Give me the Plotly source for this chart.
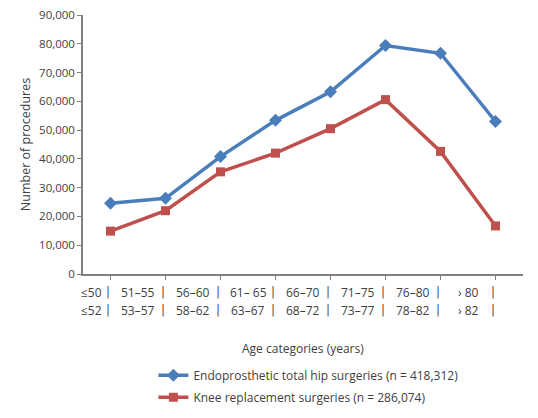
import plotly.graph_objects as go

categories = ["≤50 / ≤52", "51–55 / 53–57", "56–60 / 58–62", "61–65 / 63–67",
              "66–70 / 68–72", "71–75 / 73–77", "76–80 / 78–82", "›80 / ›82"]
labels_hip = ["≤50", "51–55", "56–60", "61– 65", "66–70", "71–75", "76–80", "› 80"]
labels_knee = ["≤52", "53–57", "58–62", "63–67", "68–72", "73–77", "78–82", "› 82"]
hip = [24600, 26300, 40800, 53400, 63300, 79400, 76700, 53000]
knee = [14900, 22000, 35500, 42000, 50500, 60600, 42600, 16700]
y_ticks = [0, 10000, 20000, 30000, 40000, 50000, 60000, 70000, 80000, 90000]

FONT = "Open Sans"
TXT = "#404040"
AX = "#808080"

fig = go.Figure()
fig.add_trace(go.Scatter(
    x=categories, y=hip, mode="lines+markers", legendgroup="hip",
    name="Endoprosthetic total hip surgeries (n = 418,312)",
    line=dict(color="#4A7EBB", width=3.5),
    marker=dict(symbol="diamond", size=10, color="#4A7EBB"),
))
fig.add_trace(go.Scatter(
    x=categories, y=knee, mode="lines+markers", legendgroup="knee",
    name="Knee replacement surgeries (n = 286,074)",
    line=dict(color="#C0504D", width=3.5),
    marker=dict(symbol="square", size=9, color="#C0504D"),
))

annotations = []
n = len(categories)
for i in range(n):
    pos = i - 0.5 if i > 0 else -0.35
    for txt, shift in ((labels_hip[i], -18), (labels_knee[i], -36)):
        annotations.append(dict(x=pos, y=0, xref="x", yref="paper", text=txt,
                                showarrow=False, yshift=shift, yanchor="middle",
                                font=dict(family=FONT, size=12, color=TXT)))
    for shift in (-18, -36):
        annotations.append(dict(x=i - 0.05, y=0, xref="x", yref="paper", text="|",
                                showarrow=False, yshift=shift, yanchor="middle",
                                font=dict(family="DejaVu Sans", size=12, color="#555555")))
annotations.append(dict(x=0.5, y=0, xref="paper", yref="paper",
                        text="Age categories (years)", showarrow=False, yshift=-74,
                        yanchor="middle",
                        font=dict(family=FONT, size=12, color=TXT)))

fig.update_layout(
    width=530, height=410,
    margin=dict(l=75, r=15, t=7, b=143),
    plot_bgcolor="white", paper_bgcolor="white",
    font=dict(family=FONT, size=11, color=TXT),
    showlegend=True,
    legend=dict(x=0.16, y=-0.33, xanchor="left", yanchor="top",
                font=dict(family=FONT, size=12, color=TXT),
                itemwidth=30, tracegroupgap=3, bgcolor="rgba(0,0,0,0)"),
    annotations=annotations,
)
fig.update_xaxes(
    type="category", range=[-0.5, n - 0.5], automargin=False,
    showticklabels=False, ticks="outside", ticklen=4, tickcolor=AX,
    showline=True, linecolor=AX, linewidth=1.5, showgrid=False, zeroline=False,
)
fig.update_yaxes(
    range=[0, 90000], tickvals=y_ticks, tickformat=",", automargin=False,
    ticklabeloverflow="allow",
    ticks="outside", ticklen=4, tickcolor=AX,
    showline=True, linecolor=AX, linewidth=1.5, showgrid=False, zeroline=False,
    title=dict(text="Number of procedures", font=dict(family=FONT, size=12.5, color=TXT),
               standoff=6),
    tickfont=dict(family=FONT, size=11.5, color=TXT),
)

fig.write_html("out.html")
